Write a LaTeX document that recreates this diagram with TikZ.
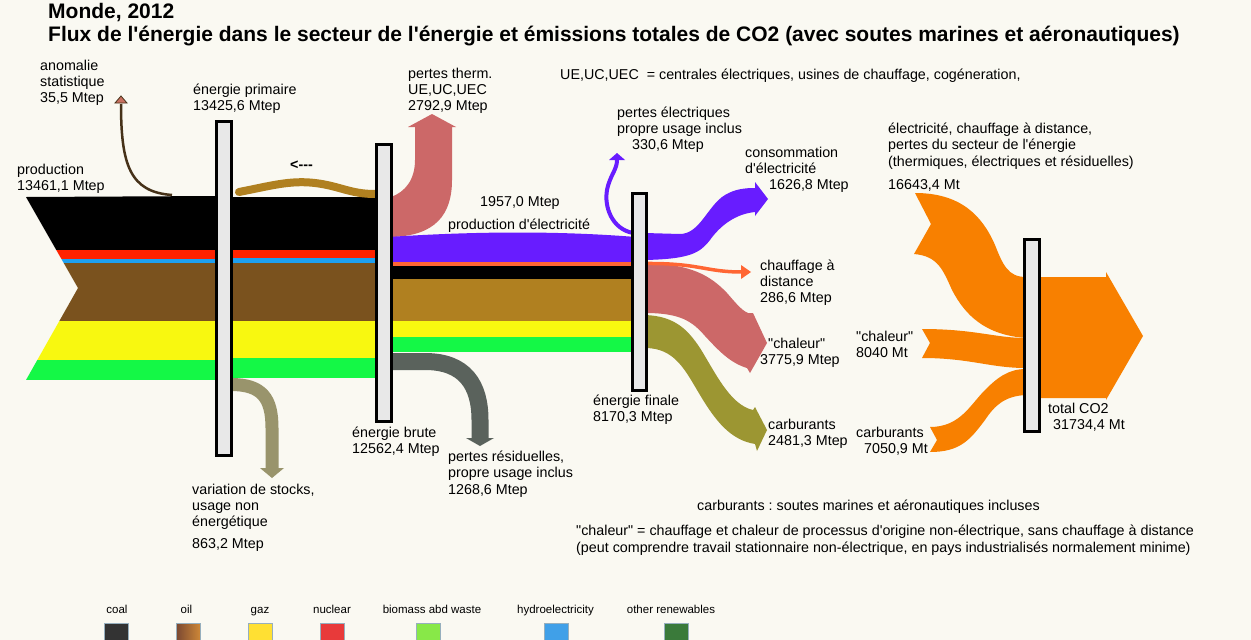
\documentclass[tikz,border=0pt]{standalone}
\usepackage{fontspec}
\setmainfont{Liberation Sans}[Ligatures=TeXOff]
\usetikzlibrary{arrows.meta}
\frenchspacing

\definecolor{bgcream}{RGB}{250,249,242}
\definecolor{nucred}{RGB}{255,34,0}
\definecolor{hydroblue}{RGB}{30,160,240}
\definecolor{oilbrown}{RGB}{122,82,30}
\definecolor{oilgold}{RGB}{176,128,32}
\definecolor{gazyellow}{RGB}{248,248,16}
\definecolor{renewgreen}{RGB}{20,248,70}
\definecolor{elecpurple}{RGB}{104,28,255}
\definecolor{heatorange}{RGB}{255,102,51}
\definecolor{lossespink}{RGB}{204,104,104}
\definecolor{fuelolive}{RGB}{156,150,50}
\definecolor{residgray}{RGB}{90,98,92}
\definecolor{stockkhaki}{RGB}{153,148,108}
\definecolor{co2orange}{RGB}{248,128,0}
\definecolor{anomalyline}{RGB}{70,50,25}
\definecolor{anomalytip}{RGB}{200,112,96}
\definecolor{barfill}{RGB}{232,232,232}
\definecolor{legcoal}{RGB}{51,51,51}
\definecolor{legoilA}{RGB}{122,72,50}
\definecolor{legoilB}{RGB}{205,135,55}
\definecolor{leggaz}{RGB}{255,224,51}
\definecolor{legnuc}{RGB}{232,58,58}
\definecolor{legbio}{RGB}{136,232,72}
\definecolor{leghydro}{RGB}{64,160,232}
\definecolor{legother}{RGB}{58,122,58}
\definecolor{legborder}{RGB}{150,175,190}

\begin{document}
\begin{tikzpicture}[x=1pt, y=-1pt,
    lbl/.style={font=\fontsize{14.3}{16.3}\selectfont, align=left, inner sep=0pt, anchor=base west},
    barbox/.style={draw=black, line width=3pt, fill=barfill, minimum width=15pt, inner sep=0pt}]
    \path[use as bounding box, fill=bgcream] (0,0) rectangle (1251,640);

    % Title (placed by the baseline of its last line)
    \node[anchor=base west, inner sep=0pt, align=left, font=\fontsize{21}{23}\selectfont\bfseries] (title) at (48,41.5)
        {Monde, 2012\\Flux de l'énergie dans le secteur de l'énergie et émissions totales de CO2 (avec soutes marines et aéronautiques)};

    % Production band, clipped to the notched tail
    \begin{scope}
        \clip (26,197) -- (78,288) -- (26,380) -- (218,380) -- (218,196) -- cycle;
        \foreach \ya/\yb/\col in {196/250/black, 250/259/nucred, 259/263/hydroblue, 263/321/oilbrown, 321/360/gazyellow, 360/380/renewgreen}
            \fill[\col] (20,\ya) rectangle (218,\yb);
    \end{scope}

    % Primary energy towards gross energy
    \foreach \ya/\yb/\col in {197/250/black, 250/258/nucred, 258/263/hydroblue, 263/321/oilbrown, 321/358/gazyellow, 358/378/renewgreen}
        \fill[\col] (230,\ya) rectangle (378,\yb);

    % Return flow (<---)
    \draw[oilgold, line width=8pt, line cap=round] (375,194) .. controls (350,194) and (340,186) .. (315,183) .. controls (290,180) and (270,186) .. (239,192);

    % Statistical anomaly
    \coordinate (anomalyend) at (121,104);
    \draw[anomalyline, line width=2.5pt] (172,195) .. controls (130,192) and (121,165) .. (anomalyend);
    \filldraw[fill=anomalytip, draw=anomalyline, line width=0.8pt] (115,103) -- (121,96) -- (127,103) -- cycle;

    % Stock variation and non-energy use
    \draw[stockkhaki, line width=13pt] (231,384.5) .. controls (262,384.5) and (272,398) .. (272,428) -- (272,469);
    \fill[stockkhaki] (260,468) -- (284,468) -- (272,478) -- cycle;

    % Thermal losses of the plants
    \fill[lossespink] (391,197) .. controls (405,192) and (415,180) .. (415,160) -- (415,127) -- (408,127) -- (432,114) -- (456,127) -- (452,127)
        -- (452,180) .. controls (452,215) and (435,236) .. (391,237) -- cycle;

    % Residual losses
    \draw[residgray, line width=17pt] (391,361.5) -- (425,361.5) .. controls (465,361.5) and (480,385) .. (480,420) -- (480,439);
    \fill[residgray] (466,438) -- (494,438) -- (480,446) -- cycle;

    % Gross energy towards final energy
    \fill[elecpurple] (388,237) .. controls (480,231) and (560,231) .. (636,237) -- (636,262) -- (388,262) -- cycle;
    \foreach \ya/\yb/\col in {262/266/heatorange, 266/279/black, 279/321/oilgold, 321/337/gazyellow, 337/352/renewgreen}
        \fill[\col] (388,\ya) rectangle (636,\yb);

    % Electrical losses
    \coordinate (eleclossend) at (617,160);
    \draw[elecpurple, line width=4pt] (633,233) .. controls (612,229) and (604,207) .. (607,190) .. controls (610,175) and (617,170) .. (eleclossend);
    \fill[elecpurple] (609,160) -- (617,153) -- (625,160) -- cycle;

    % Final energy outputs
    \fill[elecpurple] (645,233) -- (680,234) .. controls (700,234) and (708,205) .. (725,195) .. controls (735,189) and (745,188) .. (755,188)
        -- (755,182) -- (768,199) -- (755,216) -- (755,212) .. controls (735,214) and (720,226) .. (710,240) .. controls (700,253) and (690,259) .. (645,260) -- cycle;
    \fill[lossespink] (645,263) .. controls (690,264) and (710,275) .. (727,293) .. controls (735,302) and (741,310) .. (748,313) -- (753,313)
        -- (767,343) -- (750,373) -- (747,368) .. controls (730,363) and (718,350) .. (705,336) .. controls (692,321) and (680,313) .. (645,313) -- cycle;
    \fill[fuelolive] (645,315) .. controls (675,316) and (688,330) .. (700,348) .. controls (715,372) and (730,405) .. (753,410) -- (755,407)
        -- (767,430) -- (757,451) -- (755,444) .. controls (730,440) and (715,420) .. (700,395) .. controls (685,370) and (675,348) .. (645,348) -- cycle;
    \coordinate (heatend) at (742,272);
    \draw[heatorange, line width=3.5pt] (645,263.5) .. controls (700,263) and (705,272) .. (heatend);
    \fill[heatorange] (741,265) -- (751,272) -- (741,279) -- cycle;

    % CO2 emissions
    \fill[co2orange] (915,193) .. controls (960,193) and (982,215) .. (995,245) .. controls (1003,265) and (1008,277) .. (1026,277)
        -- (1026,338) .. controls (985,335) and (965,315) .. (952,290) .. controls (943,270) and (938,256) .. (914,254) -- (931,224) -- cycle;
    \fill[co2orange] (922,329) .. controls (975,329) and (995,338) .. (1026,338) -- (1026,368) .. controls (990,368) and (970,358) .. (922,358) -- (930,343) -- cycle;
    \fill[co2orange] (930,427) .. controls (960,427) and (970,405) .. (985,390) .. controls (997,378) and (1008,369) .. (1026,369)
        -- (1026,395) .. controls (1005,396) and (995,405) .. (985,420) .. controls (970,440) and (960,452) .. (930,452) -- (937,440) -- cycle;
    \fill[co2orange] (1038,277) -- (1106,277) -- (1106,272) -- (1143,336) -- (1106,400) -- (1106,398) -- (1038,398) -- cycle;

    % Balance bars
    \node[barbox, minimum height=334pt] (primaire) at (224,288.5) {};
    \node[barbox, minimum height=277pt] (brute) at (384,283) {};
    \node[barbox, minimum width=14pt, minimum height=197pt] (finale) at (639.5,292) {};
    \node[barbox, minimum height=192pt] (co2) at (1032,335.5) {};

    % Labels (multi-line ones sit on the baseline of their last line)
    \node[lbl] (lanomalie) at (40,102.6) {anomalie\\statistique\\35,5 Mtep};
    \node[lbl] (lprimaire) at (193,110.3) {énergie primaire\\13425,6 Mtep};
    \node[lbl] (lproduction) at (17,190.3) {production\\13461,1 Mtep};
    \node[lbl, font=\fontsize{14.3}{16.3}\selectfont\bfseries] (lretour) at (290,169) {<---};
    \node[lbl] (lpertestherm) at (408,110.6) {pertes therm.\\UE,UC,UEC\\2792,9 Mtep};
    \node[lbl] (lnote) at (560,79) {UE,UC,UEC\ \ = centrales électriques, usines de chauffage, cogéneration,};
    \node[lbl] (lpertesel) at (617,149.6) {pertes électriques\\propre usage inclus\\\hspace*{15pt}330,6 Mtep};
    \node[lbl] (lelecval) at (480,206) {1957,0 Mtep};
    \node[lbl] (lelecprod) at (448,229) {production d'électricité};
    \node[lbl] (lconso) at (745,189.6) {consommation\\d'électricité\\\hspace*{24pt}1626,8 Mtep};
    \node[lbl] (lchauffage) at (760,302.6) {chauffage à\\distance\\286,6 Mtep};
    \node[lbl] (lchaleur) at (760,364.5) {\hspace*{8pt}"chaleur"\\3775,9 Mtep};
    \node[lbl] (lfinale) at (593,421.3) {énergie finale\\8170,3 Mtep};
    \node[lbl] (lcarbu) at (768,445.3) {carburants\\2481,3 Mtep};
    \node[lbl] (lco2elec) at (888,189) {électricité, chauffage à distance,\\pertes du secteur de l'énergie\\(thermiques, électriques et résiduelles)\\[6.5pt]16643,4 Mt};
    \node[lbl] (lco2chaleur) at (856,357.3) {"chaleur"\\8040 Mt};
    \node[lbl] (lco2carbu) at (856,453.5) {carburants\\\hspace*{8pt}7050,9 Mt};
    \node[lbl] (lco2total) at (1048,429.3) {total CO2\\\hspace*{5pt}31734,4 Mt};
    \node[lbl] (lbrute) at (352,453.3) {énergie brute\\12562,4 Mtep};
    \node[lbl] (lresid) at (448,494) {pertes résiduelles,\\propre usage inclus\\1268,6 Mtep};
    \node[lbl] (lstocks) at (192,548.5) {variation de stocks,\\usage non\\énergétique\\[5.5pt]863,2 Mtep};
    \node[lbl] (lfootcarbu) at (697,510) {carburants : soutes marines et aéronautiques incluses};
    \node[lbl] (lfootchaleur) at (576,552) {"chaleur" = chauffage et chaleur de processus d'origine non-électrique, sans chauffage à distance\\(peut comprendre travail stationnaire non-électrique, en pays industrialisés normalement minime)};

    % Legend
    \foreach \tx/\sx/\name/\col [count=\i] in {117/116/coal/legcoal, 186.5/188/oil/legoilA, 260/260/gaz/leggaz, 332/332/nuclear/legnuc,
        432/428/biomass abd waste/legbio, 555.5/556/hydroelectricity/leghydro, 671/676/other renewables/legother} {
        \node[anchor=base, inner sep=0pt, font=\fontsize{11.5}{13}\selectfont] (leg\i) at (\tx,613) {\name};
        \filldraw[fill=\col, draw=legborder, line width=1pt] (\sx-12,623) rectangle (\sx+12,647);
    }
    \shade[left color=legoilA, right color=legoilB, draw=legborder, line width=1pt] (176,623) rectangle (200,647);
\end{tikzpicture}
\end{document}
